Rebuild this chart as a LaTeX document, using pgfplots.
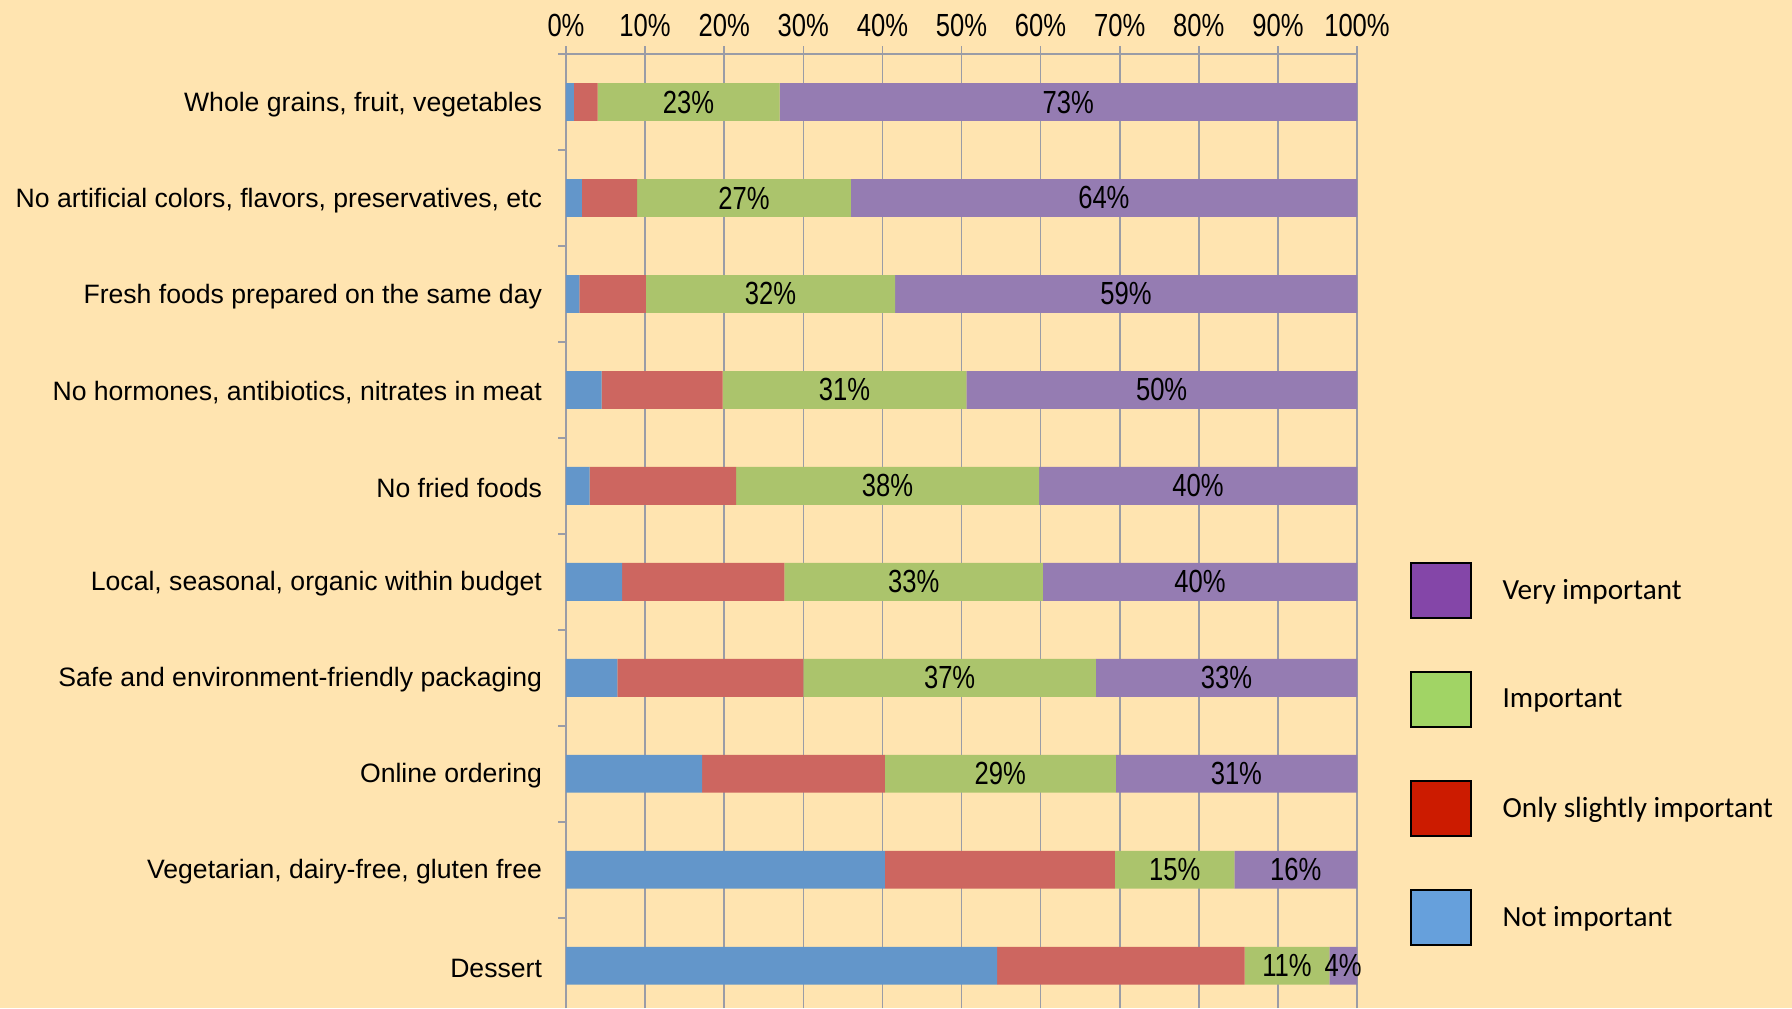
\documentclass[border=0pt]{standalone}
\usepackage{pgfplots}
\pgfplotsset{compat=1.18}
\usepackage{pgfplotstable}
\usepackage{graphicx}
\usepackage{fontspec}
\setmainfont{Liberation Sans}
\newfontfamily\calibri{Carlito}
\newcommand\nar[1]{\scalebox{0.8}[1]{#1}}
\definecolor{bg}{HTML}{FFE4B0}
\definecolor{cblue}{HTML}{6396CA}
\definecolor{cred}{HTML}{CD6660}
\definecolor{cgreen}{HTML}{ABC46C}
\definecolor{cpurple}{HTML}{957CB2}
\definecolor{lpurple}{HTML}{8446A8}
\definecolor{lgreen}{HTML}{A1D465}
\definecolor{lred}{HTML}{CC1B00}
\definecolor{lblue}{HTML}{66A0DC}
\definecolor{gridc}{HTML}{9A9CA6}
\pgfplotstableread{
nimp slight imp very implab verylab
1.0 3.0 23.0 73.0 23 73
2.0 7.0 27.0 64.0 27 64
1.7 8.4 31.5 58.4 32 59
4.5 15.3 30.8 49.4 31 50
3.0 18.5 38.3 40.2 38 40
7.1 20.5 32.7 39.7 33 40
6.5 23.5 37.0 33.0 37 33
17.2 23.1 29.2 30.5 29 31
40.3 29.1 15.1 15.5 15 16
54.5 31.3 10.7 3.5 11 4
}\data
\begin{document}
\begin{tikzpicture}
\fill[bg] (0,0) rectangle (896pt,504pt);
\begin{axis}[
  at={(283pt,0pt)}, anchor=south west,
  scale only axis, width=395.5pt, height=477pt,
  xmin=0, xmax=100, ymin=-0.44, ymax=9.5,
  xbar stacked, bar width=18.9pt,
  axis x line*=top, axis y line*=left,
  axis line style={gridc, line width=0.8pt},
  xtick={0,10,...,100},
  xticklabels={\nar{0\%},\nar{10\%},\nar{20\%},\nar{30\%},\nar{40\%},\nar{50\%},\nar{60\%},\nar{70\%},\nar{80\%},\nar{90\%},\nar{100\%}},
  xticklabel style={font=\fontsize{16}{18}\selectfont, text=black, yshift=1pt},
  xmajorgrids, grid style={gridc, line width=0.8pt},
  tick align=outside, major tick length=4pt,
  tick style={gridc, line width=0.8pt},
  ytick={0.5,1.5,...,9.5}, yticklabels={},
  extra y ticks={0,1,...,9},
  extra y tick labels={Dessert,{Vegetarian, dairy-free, gluten free},Online ordering,Safe and environment-friendly packaging,{Local, seasonal, organic within budget},No fried foods,{No hormones, antibiotics, nitrates in meat},Fresh foods prepared on the same day,{No artificial colors, flavors, preservatives, etc},{Whole grains, fruit, vegetables}},
  extra y tick style={major tick length=0pt, yticklabel style={font=\fontsize{13.3}{16}\selectfont, text=black, xshift=-8.5pt, yshift=-1.1pt}},
  legend image code/.code={\draw[#1,draw=black,line width=1pt] (0pt,-13.75pt) rectangle (30pt,13.75pt);},
  legend style={at={(1.066,0.4675)}, anchor=north west, draw=none, fill=none, inner sep=0pt, row sep=26pt,
    font=\calibri\fontsize{14.6}{17}\selectfont, cells={anchor=west},
    /tikz/column 1/.style={column sep=13.5pt}},
]
\addplot[fill=cblue, draw=none, forget plot] table[x=nimp, y expr=9-\coordindex]{\data};
\addplot[fill=cred, draw=none, forget plot] table[x=slight, y expr=9-\coordindex]{\data};
\addplot[fill=cgreen, draw=none, forget plot] table[x=imp, y expr=9-\coordindex]{\data};
\addplot[fill=cpurple, draw=none, forget plot] table[x=very, y expr=9-\coordindex]{\data};
\addlegendimage{fill=lpurple}
\addlegendentry{Very important}
\addlegendimage{fill=lgreen}
\addlegendentry{Important}
\addlegendimage{fill=lred}
\addlegendentry{Only slightly important}
\addlegendimage{fill=lblue}
\addlegendentry{Not important}
\end{axis}
\begin{axis}[
  at={(283pt,0pt)}, anchor=south west,
  scale only axis, width=395.5pt, height=477pt,
  xmin=0, xmax=100, ymin=-0.44, ymax=9.5,
  hide axis, clip=false,
  nodes near coords={\nar{\pgfplotspointmeta\%}},
  every node near coord/.append style={anchor=center, font=\fontsize{16}{18}\selectfont, text=black},
  point meta=explicit symbolic,
]
\addplot[only marks, mark=none] table[x expr=\thisrow{nimp}+\thisrow{slight}+0.5*\thisrow{imp}, y expr=9-\coordindex, meta=implab]{\data};
\addplot[only marks, mark=none] table[x expr=\thisrow{nimp}+\thisrow{slight}+\thisrow{imp}+0.5*\thisrow{very}, y expr=9-\coordindex, meta=verylab]{\data};
\end{axis}
\pgfresetboundingbox
\useasboundingbox (0,0) rectangle (896pt,504pt);
\end{tikzpicture}
\end{document}
